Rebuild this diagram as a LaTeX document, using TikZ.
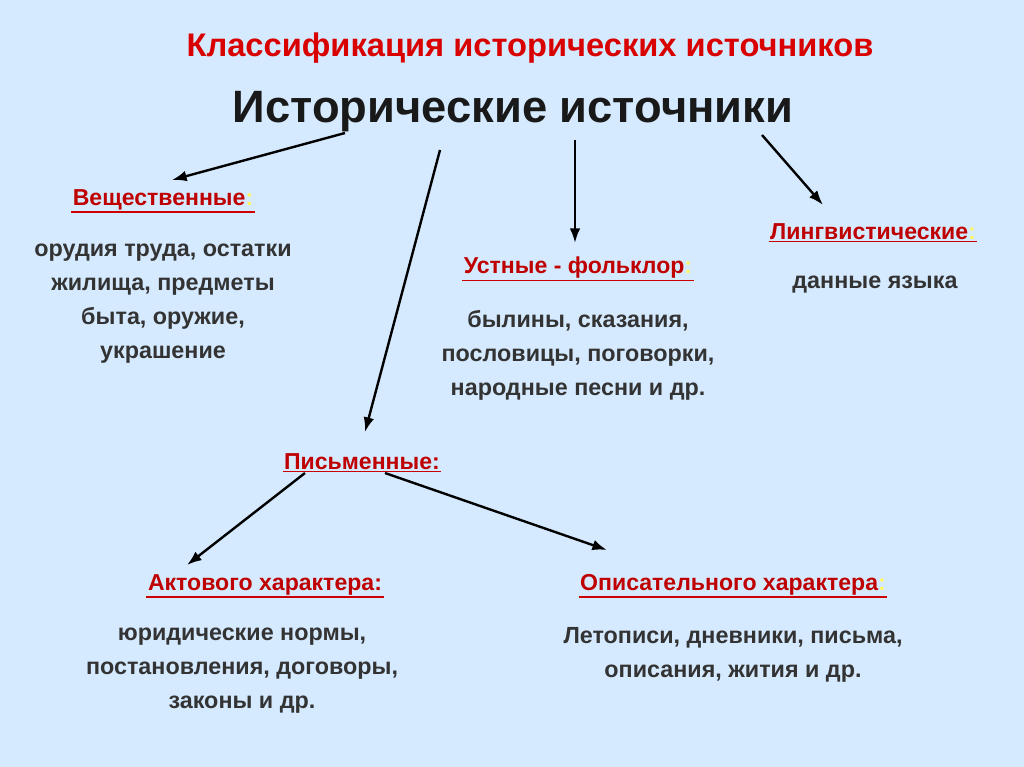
\documentclass[tikz,border=0pt]{standalone}
\usepackage{fontspec}
\setmainfont{Liberation Sans}
\usetikzlibrary{arrows.meta}
\begin{document}
\begin{tikzpicture}[x=0.75pt,y=-0.75pt,
  head/.style={font=\bfseries\fontsize{17.3}{19}\selectfont, text=red!75!black, inner sep=1pt,
    append after command={(\tikzlastnode.south west) edge[draw=red!80!black, line width=1pt] (\tikzlastnode.south east)}},
  body/.style={font=\bfseries\fontsize{17.5}{25.5}\selectfont, text=black!80, align=center, inner sep=0pt},
  arr/.style={-{Latex[length=11pt,width=8pt]}, line width=1.8pt}]
\fill[fill=blue!9!white!92!cyan] (0,0) rectangle (1024,767);
\useasboundingbox (0,0) rectangle (1024,767);
\node[font=\bfseries\fontsize{24.5}{27}\selectfont, text=red!85!black] (title) at (530,48) {Классификация исторических источников};
\node[font=\bfseries\fontsize{34}{38}\selectfont, text=black!90] (main) at (513,112) {Исторические источники};
\node[head] (v) at (163,200) {Вещественные\textcolor{yellow!60!white}{:}};
\node[body] (vb) at (163,304) {орудия труда, остатки\\жилища, предметы\\быта, оружие,\\украшение};
\node[head] (u) at (578,268) {Устные - фольклор\textcolor{yellow!60!white}{:}};
\node[body] (ub) at (578,355) {былины, сказания,\\пословицы, поговорки,\\народные песни и др.};
\node[head] (l) at (873,232) {Лингвистические\textcolor{yellow!60!white}{:}};
\node[body] (lb) at (875,285) {данные языка};
\node[head] (p) at (362,462) {Письменные:};
\node[head] (a) at (265,585) {Актового характера:};
\node[body] (ab) at (242,671) {юридические нормы,\\постановления, договоры,\\законы и др.};
\node[head] (o) at (733,585) {Описательного характера\textcolor{yellow!60!white}{:}};
\node[body] (ob) at (733,655) {Летописи, дневники, письма,\\описания, жития и др.};
\coordinate (m1) at (345,133); \coordinate (m2) at (440,150);
\coordinate (m3) at (575,140); \coordinate (m4) at (762,135);
\coordinate (p1) at (305,473); \coordinate (p2) at (385,473);
\draw[arr] (m1) -- (172,180);
\draw[arr] (m2) -- (365,432);
\draw[arr] (m3) -- (575,243);
\draw[arr] (m4) -- (823,205);
\draw[arr] (p1) -- (187,565);
\draw[arr] (p2) -- (607,550);
\end{tikzpicture}
\end{document}
